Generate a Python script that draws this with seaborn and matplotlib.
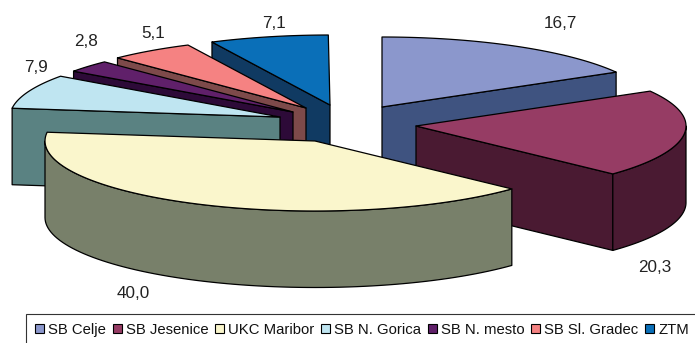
import numpy as np
import matplotlib
matplotlib.use("Agg")
import matplotlib.pyplot as plt
from matplotlib.patches import Polygon, Patch
import seaborn as sns

hospitals = ["SB Celje", "SB Jesenice", "UKC Maribor", "SB N. Gorica",
             "SB N. mesto", "SB Sl. Gradec", "ZTM"]
shares = [16.7, 20.3, 40.0, 7.9, 2.8, 5.1, 7.1]
top_colors = ["#8b97cc", "#963c64", "#faf6cc", "#bfe5f1", "#60206a", "#f58282", "#0a6fb8"]
side_colors = ["#3f5380", "#4a1a32", "#78806a", "#5a8282", "#2d0a38", "#7d4a4a", "#103a62"]

# Exploded slice apexes, in pixels
apexes = [(382, 107), (416, 126), (315, 141), (280, 117), (293, 112), (306, 108), (330, 105)]
label_pos = [(560, 23), (655, 268), (133, 293), (36, 67), (86, 42), (153, 33), (274, 23)]
RX, RY, DEPTH = 270, 70, 76.5
draw_order = [0, 6, 5, 4, 3, 1, 2]

sns.set_theme(style="white")
plt.rcParams["font.family"] = ["Liberation Sans", "DejaVu Sans"]

fig = plt.figure(figsize=(6.95, 3.43), dpi=100)
ax = fig.add_axes([0, 0, 1, 1])
ax.set_xlim(0, 695)
ax.set_ylim(343, 0)
ax.axis("off")

angles = np.concatenate([[0], np.cumsum(shares)]) * 3.6


def rim(apex, t):
    r = np.radians(t)
    return np.column_stack([apex[0] + RX * np.sin(r), apex[1] - RY * np.cos(r)])


def add_face(points, color, z):
    ax.add_patch(Polygon(points, closed=True, facecolor=color, edgecolor="black",
                         linewidth=0.9, joinstyle="round", zorder=z))


drop = np.array([0, DEPTH])
for z, i in enumerate(draw_order):
    a0, a1 = angles[i], angles[i + 1]
    apex = np.array(apexes[i], dtype=float)
    base = 10 * z
    # radial cut faces that turn towards the viewer
    for edge, visible in ((a0, np.sin(np.radians(a0)) < -1e-6),
                          (a1, np.sin(np.radians(a1)) > 1e-6)):
        if visible:
            p = rim(apex, [edge])[0]
            add_face([apex, p, p + drop, apex + drop], side_colors[i], base + 1)
    # outer wall on the near half of the ellipse
    lo, hi = max(a0, 90), min(a1, 270)
    if lo < hi:
        arc = rim(apex, np.linspace(lo, hi, 80))
        add_face(np.vstack([arc, (arc + drop)[::-1]]), side_colors[i], base + 2)
    # top surface
    arc = rim(apex, np.linspace(a0, a1, 120))
    add_face(np.vstack([apex, arc]), top_colors[i], base + 3)

for value, (x, y) in zip(shares, label_pos):
    ax.text(x, y, f"{value:.1f}".replace(".", ","), ha="center", va="center",
            fontsize=12.3, color="#222222", zorder=200)

handles = [Patch(facecolor=c, edgecolor="black", linewidth=0.8) for c in top_colors]
legend = ax.legend(handles, hospitals, ncol=7, loc="lower left",
                   bbox_to_anchor=(26 / 695, -3 / 343), bbox_transform=ax.transAxes,
                   frameon=True, fancybox=False, edgecolor="#333333", framealpha=1,
                   fontsize=10.7, handlelength=0.6, handleheight=0.6, handletextpad=0.28,
                   columnspacing=0.45, borderpad=0.62, borderaxespad=0)
legend.get_frame().set_linewidth(0.8)
legend.set_zorder(300)
for t in legend.get_texts():
    t.set_color("#111111")

fig.savefig("out.png", dpi=100)
